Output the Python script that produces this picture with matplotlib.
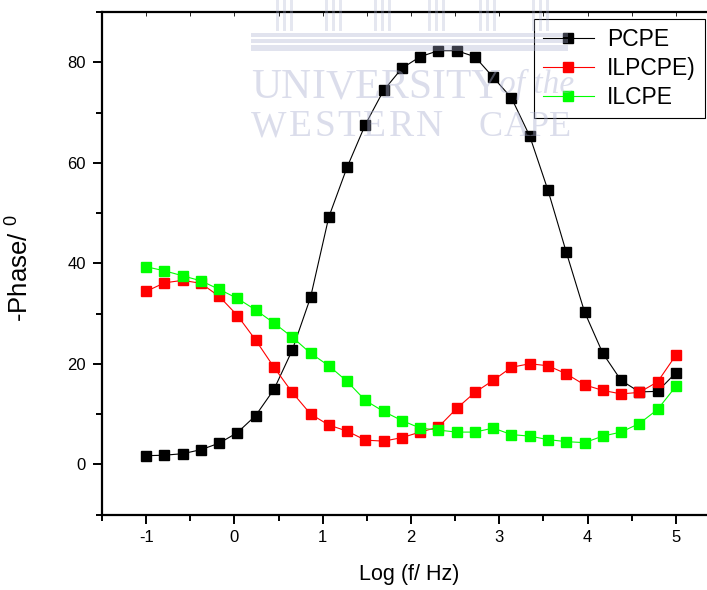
import matplotlib
matplotlib.use('Agg')
import matplotlib.pyplot as plt
from matplotlib.patches import Rectangle
from matplotlib.ticker import MultipleLocator

plt.rcParams['font.family'] = ['Liberation Sans', 'DejaVu Sans']
plt.rcParams['mathtext.fontset'] = 'custom'
plt.rcParams['mathtext.rm'] = 'Liberation Sans'

# log frequency (Hz), same sweep for all three electrodes
log_f = [-1.0, -0.793, -0.586, -0.379, -0.172, 0.034, 0.241, 0.448, 0.655, 0.862,
         1.069, 1.276, 1.483, 1.690, 1.897, 2.103, 2.310, 2.517, 2.724, 2.931,
         3.138, 3.345, 3.552, 3.759, 3.966, 4.172, 4.379, 4.586, 4.793, 5.0]

# -phase angle (degrees)
phase_pcpe = [1.7, 1.8, 2.1, 2.9, 4.2, 6.3, 9.7, 14.9, 22.7, 33.2,
              49.2, 59.1, 67.6, 74.4, 78.8, 81.1, 82.3, 82.3, 81.1, 77.0,
              72.9, 65.3, 54.5, 42.2, 30.3, 22.1, 16.7, 14.4, 14.5, 18.2]
phase_ilpcpe = [34.4, 36.1, 36.6, 36.0, 33.4, 29.6, 24.7, 19.3, 14.3, 10.0,
                7.8, 6.6, 4.8, 4.6, 5.3, 6.4, 7.4, 11.1, 14.3, 16.7,
                19.3, 20.0, 19.6, 18.0, 15.8, 14.7, 14.0, 14.3, 16.4, 21.7]
phase_ilcpe = [39.3, 38.5, 37.5, 36.5, 34.8, 33.0, 30.7, 28.1, 25.3, 22.1,
               19.6, 16.5, 12.7, 10.5, 8.7, 7.2, 6.8, 6.4, 6.4, 7.2,
               5.9, 5.6, 4.9, 4.5, 4.3, 5.6, 6.4, 8.1, 10.9, 15.5]

labels = ['PCPE', 'ILPCPE)', 'ILCPE']
colors = ['#000000', '#ff0000', '#00ff00']

W, H = 707, 590
fig = plt.figure(figsize=(W / 100, H / 100), dpi=100)
# axes runs a little past the right edge of the page
ax = fig.add_axes([102 / W, 75.5 / H, 618 / W, 502.5 / H])

for y, lab, c in zip([phase_pcpe, phase_ilpcpe, phase_ilcpe], labels, colors):
    ax.plot(log_f, y, '-s', color=c, lw=0.8, ms=6.5, mec=c, label=lab)

ax.set_xlim(-1.5, 5.5)
ax.set_ylim(-10, 90)
ax.xaxis.set_major_locator(MultipleLocator(1))
ax.xaxis.set_minor_locator(MultipleLocator(0.5))
ax.yaxis.set_major_locator(MultipleLocator(20))
ax.yaxis.set_minor_locator(MultipleLocator(10))

for s in ['left', 'bottom', 'top']:
    ax.spines[s].set_linewidth(1.6)
ax.spines['right'].set_visible(False)

ax.tick_params(axis='both', which='major', direction='out', length=6.5, width=1.4,
               labelsize=12, pad=5)
ax.tick_params(axis='both', which='minor', direction='out', length=4, width=1.4)
ax.tick_params(axis='x', which='both', top=True, labeltop=False)
# short faint inward ticks along the top edge
for t in ax.xaxis.get_major_ticks() + ax.xaxis.get_minor_ticks():
    t.tick2line.set_marker(3)
    t.tick2line.set_markersize(3)
    t.tick2line.set_markeredgewidth(0.6)
    t.tick2line.set_color('#aaaaaa')

ax.set_xticks([-1, 0, 1, 2, 3, 4, 5])
ax.set_xticklabels(['-1', '0', '1', '2', '3', '4', '5'])
ax.set_xlabel('Log (f/ Hz)', fontsize=15.5)
ax.set_ylabel(r'-Phase/ $^{0}$', fontsize=18.5)
ax.xaxis.set_label_coords(0.497, -0.098)
ax.yaxis.set_label_coords(-0.112, 0.49)

leg = ax.legend(loc='upper left', bbox_to_anchor=(534 / W, 1 - 19 / H),
                bbox_transform=fig.transFigure, fontsize=16.5, numpoints=1,
                handlelength=2.2, handletextpad=0.6, labelspacing=0.25,
                borderpad=0.4, borderaxespad=0, fancybox=False, framealpha=1)
leg.get_frame().set_edgecolor('black')
leg.get_frame().set_linewidth(0.8)

# faint university watermark laid over the page
wm = '#aab0d0'
wa = 0.42
renderer = fig.canvas.get_renderer()


def spaced_text(x, y, s, size, track, **kw):
    # write s letter by letter (pixel coords from the top-left) with extra tracking
    for ch in s:
        t = fig.text(x / W, 1 - y / H, ch, family='Liberation Serif', fontsize=size,
                     color=wm, alpha=wa, va='center', ha='left', zorder=20, **kw)
        x += t.get_window_extent(renderer).width + track


spaced_text(251, 88, 'UNIVERSITY', 30, 0)
fig.text(499 / W, 1 - 84 / H, 'of the', family='Liberation Serif', style='italic',
         fontsize=24, color=wm, alpha=wa, va='center', ha='left', zorder=20)
spaced_text(251, 127, 'WESTERN', 27, 2.5)
spaced_text(479, 127, 'CAPE', 26, 0)

for y0, h in [(33, 4), (39, 4), (45, 6)]:
    fig.patches.append(Rectangle((251 / W, 1 - (y0 + h) / H), 317 / W, h / H,
                                 transform=fig.transFigure, color=wm, alpha=0.35,
                                 lw=0, zorder=20))
for x0 in [276, 325, 374, 428, 479, 532]:
    for dx in [0, 7, 14]:
        fig.patches.append(Rectangle(((x0 + dx) / W, 1 - 31 / H), 3 / W, 31 / H,
                                     transform=fig.transFigure, color=wm, alpha=0.3,
                                     lw=0, zorder=20))

fig.savefig('out.png', dpi=100)
